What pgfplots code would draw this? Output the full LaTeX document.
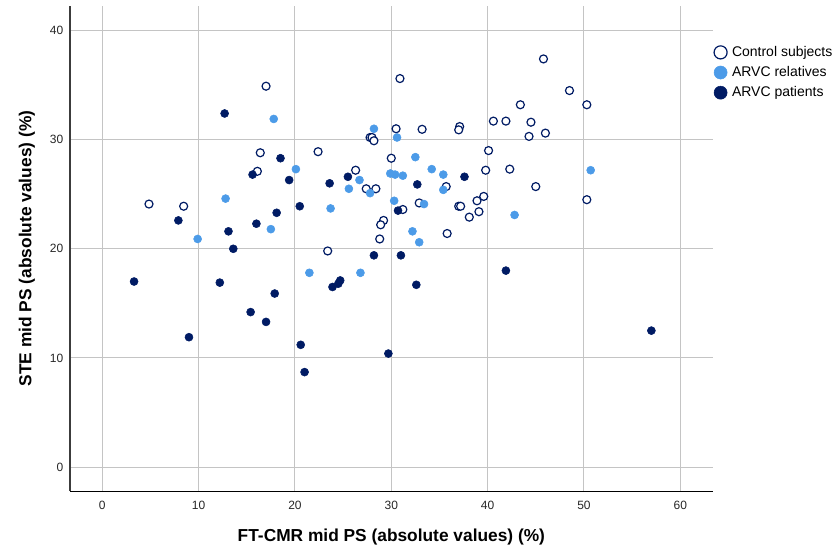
\documentclass[border=0pt]{standalone}
\usepackage{fontspec}
\setmainfont{Liberation Sans}
\usepackage{pgfplots}
\usepackage{pgfplotstable}
\pgfplotsset{compat=1.18}

\definecolor{navy}{RGB}{0,27,100}
\definecolor{skyblue}{RGB}{76,155,232}
\definecolor{gridgray}{RGB}{196,196,196}
\definecolor{axisgray}{RGB}{60,60,60}

% FT-CMR mid PS (x) vs STE mid PS (y), absolute values in %
\pgfplotstableread{
x y
17.0 34.9
16.4 28.8
16.1 27.1
4.85 24.1
8.45 23.9
23.4 19.8
28.8 20.9
45.8 37.4
48.5 34.5
43.4 33.2
50.3 33.2
40.6 31.7
41.9 31.7
44.5 31.6
44.3 30.3
46.0 30.6
40.1 29.0
39.8 27.2
42.3 27.3
45.0 25.7
39.6 24.8
39.1 23.4
50.3 24.5
30.9 35.6
30.5 31.0
33.2 30.95
37.1 31.2
37.0 30.9
27.8 30.2
28.0 30.2
28.2 29.9
22.4 28.9
30.0 28.3
26.3 27.2
27.4 25.5
28.4 25.5
35.7 25.7
31.2 23.6
32.9 24.2
37.0 23.9
37.2 23.9
38.9 24.4
38.1 22.9
29.2 22.6
28.9 22.2
35.8 21.4
}\controls

\pgfplotstableread{
x y
17.8 31.9
12.8 24.6
17.5 21.8
9.9 20.9
32.9 20.6
21.5 17.8
26.8 17.8
50.7 27.2
42.8 23.1
28.2 31.0
30.6 30.2
32.5 28.4
20.1 27.3
26.7 26.3
34.2 27.3
35.4 26.8
29.9 26.9
30.4 26.8
31.2 26.7
25.6 25.5
27.8 25.1
35.4 25.4
23.7 23.7
30.3 24.4
33.4 24.1
32.2 21.6
}\relatives

\pgfplotstableread{
x y
12.7 32.4
18.5 28.3
15.6 26.8
19.4 26.3
7.9 22.6
18.1 23.3
16.0 22.3
13.1 21.6
13.6 20.0
3.3 17.0
12.2 16.9
17.9 15.9
15.4 14.2
17.0 13.3
9.0 11.9
28.2 19.4
31.0 19.4
24.7 17.1
24.5 16.8
23.9 16.5
32.6 16.7
20.6 11.2
29.7 10.4
21.0 8.7
41.9 18.0
57.0 12.5
25.5 26.6
37.6 26.6
23.6 26.0
32.7 25.9
20.5 23.9
30.7 23.5
}\patients

\begin{document}
\begin{tikzpicture}
\begin{axis}[
  name=ax,
  scale only axis,
  width=482pt, height=363.75pt,
  xmin=-3.35, xmax=63.37,
  ymin=-2.2, ymax=42.25,
  xtick={0,10,...,60},
  ytick={0,10,...,40},
  major tick length=0pt,
  axis x line*=bottom,
  axis y line*=left,
  x axis line style={-, black, line width=0.8pt},
  y axis line style={-, axisgray, line width=0.8pt},
  grid=major,
  major grid style={gridgray, line width=0.75pt},
  /pgf/number format/assume math mode=true,
  tick label style={font=\fontsize{9}{10}\selectfont, text=black!85},
  xticklabel style={anchor=center, yshift=-10.5pt},
  yticklabel style={anchor=east, xshift=-1.5pt},
  xlabel={FT-CMR mid PS (absolute values) (\%)},
  ylabel={STE mid PS (absolute values) (\%)},
  every axis x label/.style={at={(axis description cs:0.5,-0.0948)}, anchor=center,
    font=\fontsize{13}{15}\selectfont\bfseries},
  every axis y label/.style={at={(axis description cs:-0.0669,0.5)}, anchor=center, rotate=90,
    font=\fontsize{13}{15}\selectfont\bfseries},
  legend style={
    at={(1,0.921)}, anchor=north west, xshift=1pt,
    draw=none, fill=none, inner sep=0pt, outer sep=0pt,
    font=\fontsize{10.5}{12}\selectfont,
    row sep=3pt,
    nodes={inner sep=1.5pt},
  },
  legend cell align=left,
  legend image code/.code={%
    \draw[#1, mark size=4.9pt] plot coordinates {(4.9pt,0pt)};
    \path (11.5pt,0pt);},
]
\addplot[only marks, mark=*, mark size=3pt, draw=navy, fill=white, line width=0.9pt] table {\controls};
\addlegendentry{Control subjects}
\addplot[only marks, mark=*, mark size=3pt, draw=skyblue, fill=skyblue] table {\relatives};
\addlegendentry{ARVC relatives}
\addplot[only marks, mark=*, mark size=3pt, draw=navy, fill=navy] table {\patients};
\addlegendentry{ARVC patients}
\end{axis}
\pgfresetboundingbox
\path[use as bounding box] ([xshift=-52.5pt, yshift=-46.5pt]ax.south west) rectangle ([xshift=94.7pt, yshift=4.5pt]ax.north east);
\end{tikzpicture}
\end{document}
